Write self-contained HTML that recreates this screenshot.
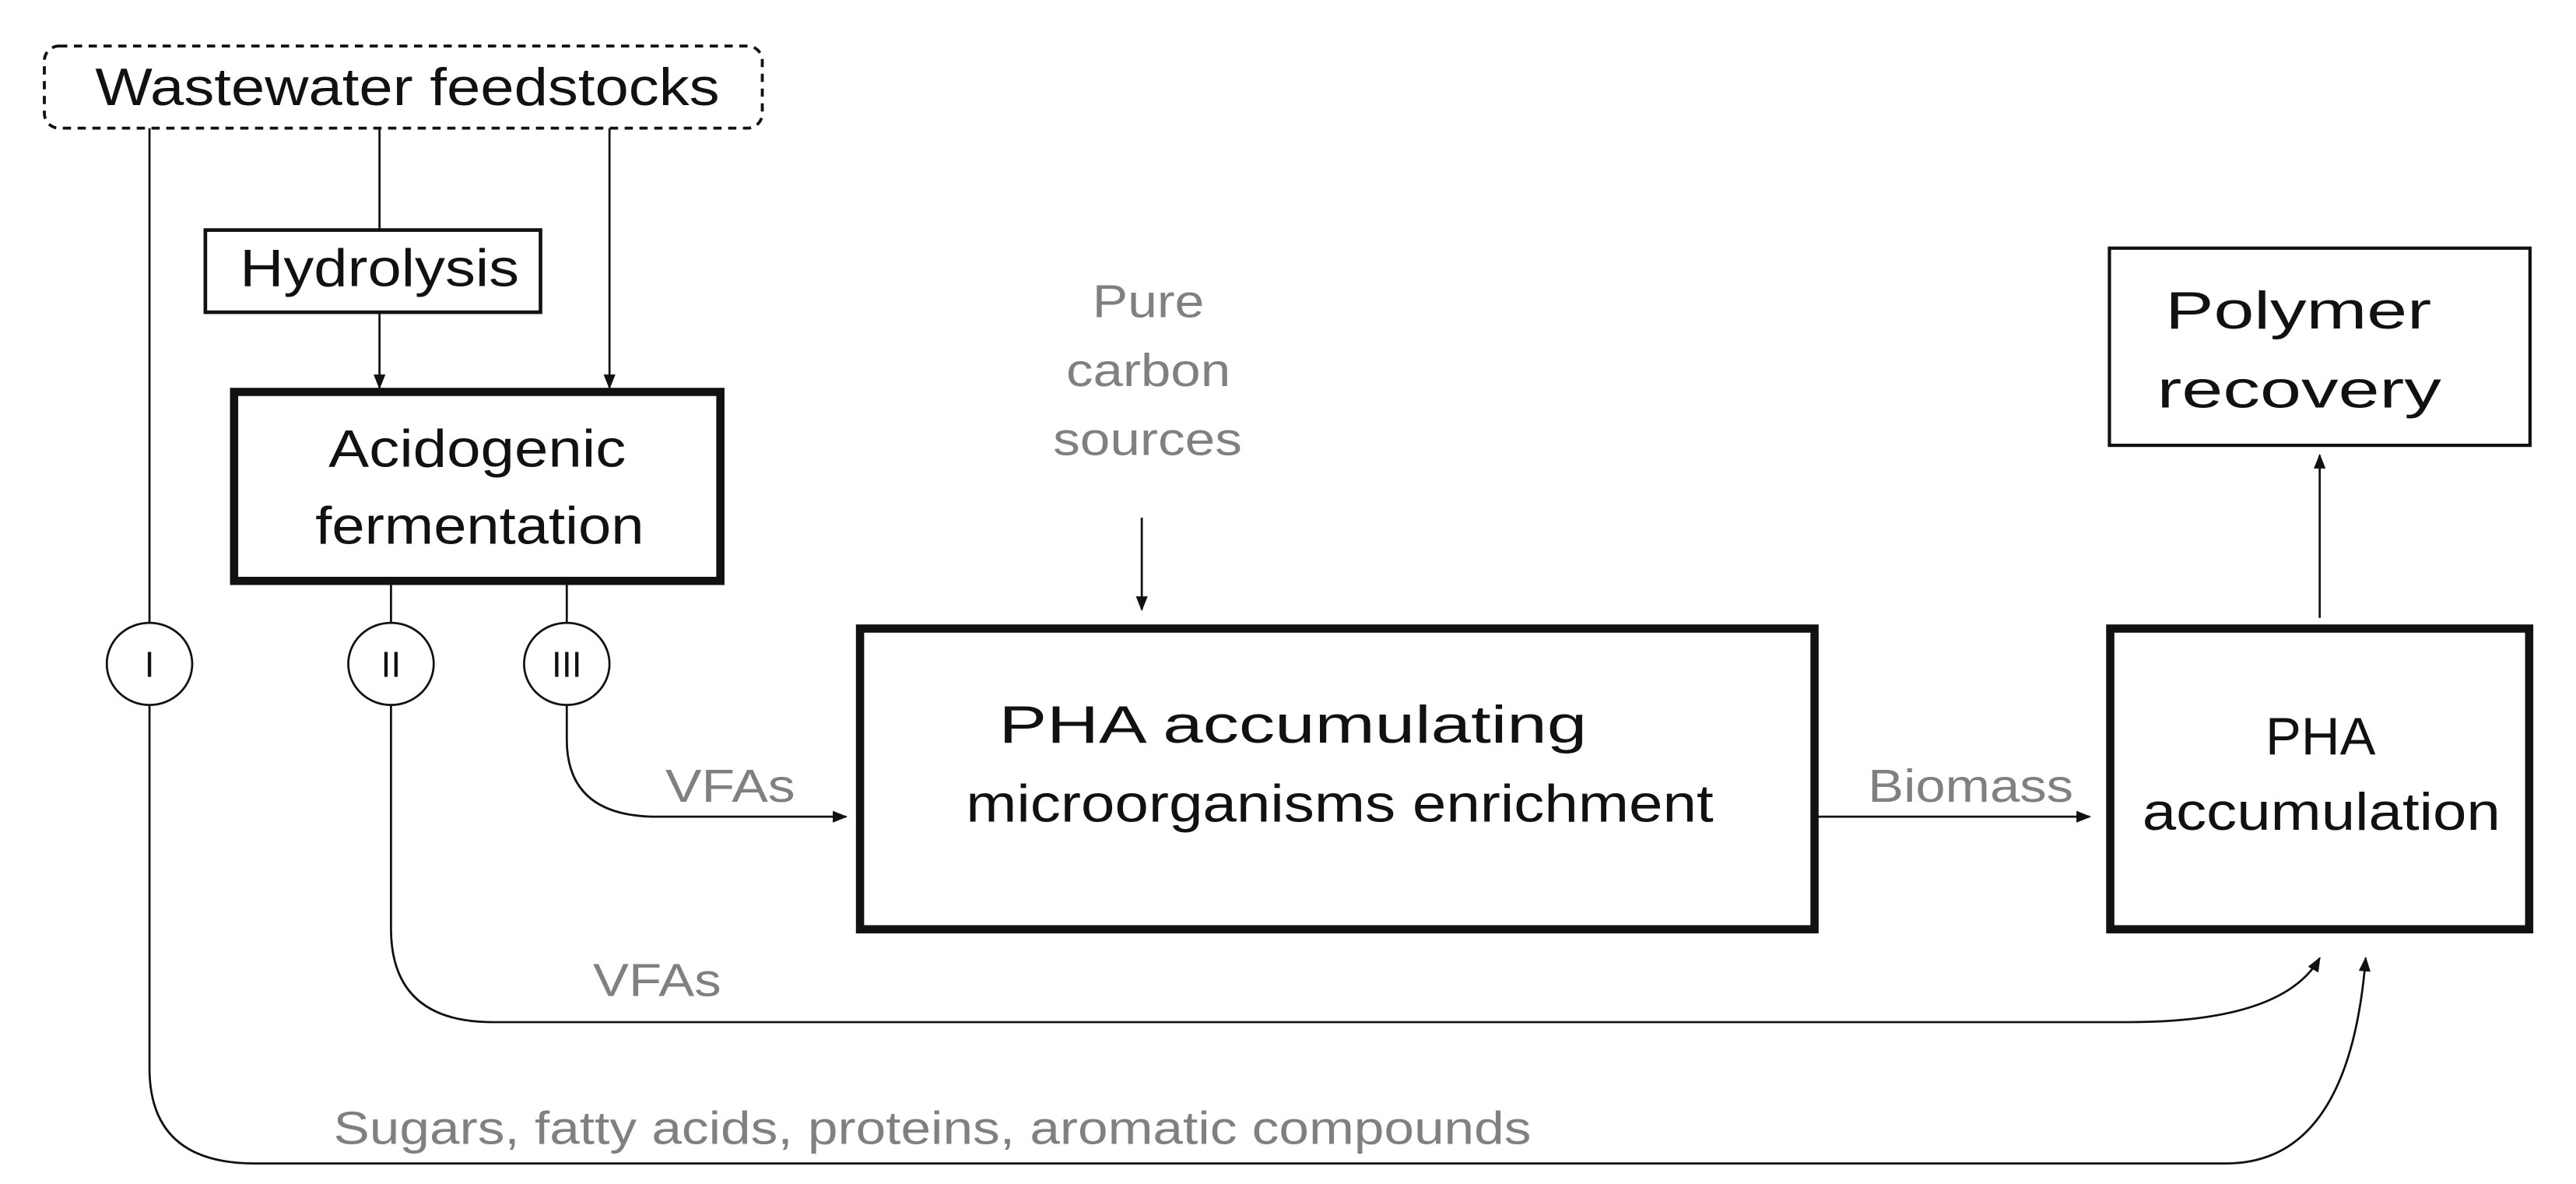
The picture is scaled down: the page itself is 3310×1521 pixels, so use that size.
<!DOCTYPE html>
<html><head><meta charset="utf-8"><style>html,body{margin:0;padding:0;background:#fff}svg{display:block}</style></head>
<body>
<svg width="3310" height="1521" viewBox="0 0 1568 720.5" preserveAspectRatio="none" xmlns="http://www.w3.org/2000/svg" font-family="Liberation Sans, Arial, sans-serif">
<defs>
<marker id="a" viewBox="0 0 10 10" refX="9" refY="5" markerWidth="9" markerHeight="9" markerUnits="userSpaceOnUse" orient="auto"><path d="M0,1 L10,5 L0,9 z" fill="#111"/></marker>
</defs>
<g fill="none" stroke="#111" stroke-width="1.3">
<rect x="27" y="28" width="437" height="50" rx="9" stroke-dasharray="5,4" stroke-width="1.8"/>
<rect x="125" y="140" width="204" height="50" stroke-width="2.2"/>
<rect x="142.5" y="238.5" width="296" height="115" stroke-width="5"/>
<rect x="523.5" y="382.5" width="581" height="183" stroke-width="5"/>
<rect x="1284.5" y="382.5" width="255" height="183" stroke-width="5"/>
<rect x="1284" y="151" width="256" height="120" stroke-width="2"/>
<line x1="231" y1="78" x2="231" y2="140"/>
<line x1="231" y1="190" x2="231" y2="236" marker-end="url(#a)"/>
<line x1="371" y1="78" x2="371" y2="236" marker-end="url(#a)"/>
<line x1="238" y1="354" x2="238" y2="379"/>
<line x1="345" y1="354" x2="345" y2="379"/>
<line x1="91" y1="78" x2="91" y2="379"/>
<ellipse cx="91" cy="404" rx="26" ry="25"/>
<ellipse cx="238" cy="404" rx="26" ry="25"/>
<ellipse cx="345" cy="404" rx="26" ry="25"/>
<path d="M345,429 L345,450 Q345,497 400,497 L515,497" marker-end="url(#a)"/>
<path d="M238,429 L238,565 Q238,622 300,622 L1295,622 Q1390,622 1412,583" marker-end="url(#a)"/>
<path d="M91,429 L91,650 Q91,708 155,708 L1355,708 Q1430,708 1440,583" marker-end="url(#a)"/>
<line x1="695" y1="315" x2="695" y2="371" marker-end="url(#a)"/>
<line x1="1105" y1="497" x2="1272" y2="497" marker-end="url(#a)"/>
<line x1="1412" y1="376" x2="1412" y2="277" marker-end="url(#a)"/>
</g>
<g fill="#111" font-size="32">
<text x="58" y="64" textLength="380" lengthAdjust="spacingAndGlyphs">Wastewater feedstocks</text>
<text x="146" y="174" textLength="170" lengthAdjust="spacingAndGlyphs">Hydrolysis</text>
<text x="200" y="284" textLength="181" lengthAdjust="spacingAndGlyphs">Acidogenic</text>
<text x="192" y="331" textLength="200" lengthAdjust="spacingAndGlyphs">fermentation</text>
<text x="608" y="452" textLength="358" lengthAdjust="spacingAndGlyphs">PHA accumulating</text>
<text x="588" y="500" textLength="455" lengthAdjust="spacingAndGlyphs">microorganisms enrichment</text>
<text x="1379" y="459" textLength="67" lengthAdjust="spacingAndGlyphs">PHA</text>
<text x="1304" y="505" textLength="218" lengthAdjust="spacingAndGlyphs">accumulation</text>
<text x="1318" y="200" textLength="162" lengthAdjust="spacingAndGlyphs">Polymer</text>
<text x="1313" y="248" textLength="173" lengthAdjust="spacingAndGlyphs">recovery</text>
</g>
<g fill="#111" font-size="22" text-anchor="middle">
<text x="91" y="412">I</text><text x="238" y="412">II</text><text x="345" y="412">III</text>
</g>
<g fill="#808080" font-size="28">
<text x="665" y="193" textLength="68" lengthAdjust="spacingAndGlyphs">Pure</text>
<text x="649" y="235" textLength="100" lengthAdjust="spacingAndGlyphs">carbon</text>
<text x="641" y="277" textLength="115" lengthAdjust="spacingAndGlyphs">sources</text>
<text x="405" y="488" textLength="79" lengthAdjust="spacingAndGlyphs">VFAs</text>
<text x="361" y="606" textLength="78" lengthAdjust="spacingAndGlyphs">VFAs</text>
<text x="1137" y="488" textLength="125" lengthAdjust="spacingAndGlyphs">Biomass</text>
<text x="203" y="696" textLength="729" lengthAdjust="spacingAndGlyphs">Sugars, fatty acids, proteins, aromatic compounds</text>
</g>
</svg>
</body></html>
